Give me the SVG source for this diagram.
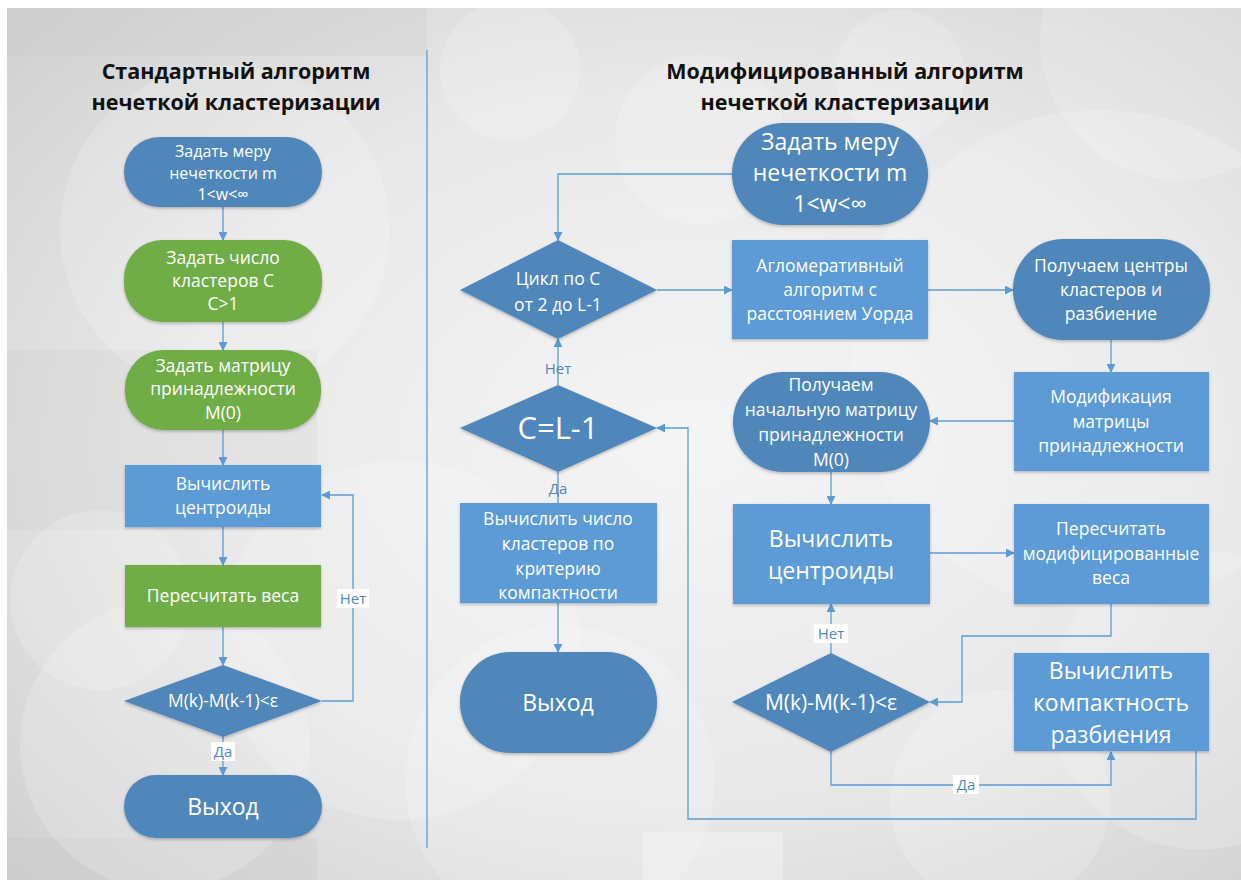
<svg xmlns="http://www.w3.org/2000/svg" width="1241" height="883" viewBox="0 0 1241 883">
<defs>
<radialGradient id="bg" cx="0.55" cy="0.5" r="0.75">
<stop offset="0" stop-color="#f5f5f6"/>
<stop offset="0.55" stop-color="#e8e8e9"/>
<stop offset="1" stop-color="#cfcfd0"/>
</radialGradient>
<marker id="ah" viewBox="0 0 10 10" refX="9" refY="5" markerWidth="9" markerHeight="9" markerUnits="userSpaceOnUse" orient="auto">
<path d="M0,0 L10,5 L0,10 z" fill="#5B9BD5"/>
</marker>
<filter id="sh" x="-10%" y="-10%" width="120%" height="130%">
<feDropShadow dx="0" dy="1.5" stdDeviation="1.5" flood-color="#000" flood-opacity="0.25"/>
</filter>
</defs>
<style>
.dk{fill:#4F87BB;filter:url(#sh)}
.lt{fill:#5B9BD5;filter:url(#sh)}
.gr{fill:#70AD47;filter:url(#sh)}
.t{font-family:"Open Sans","Liberation Sans",sans-serif;fill:#fff;text-anchor:middle}
.s{font-size:17.5px}
.m{font-size:17.5px}
.sm{font-size:16px}
.b{font-size:23px}
.h{font-family:"Open Sans","Liberation Sans",sans-serif;font-weight:bold;font-size:21.5px;fill:#111;text-anchor:middle}
.c{fill:none;stroke:#5B9BD5;stroke-width:1.3}
.ca{fill:none;stroke:#5B9BD5;stroke-width:1.3;marker-end:url(#ah)}
.lb{font-family:"Open Sans","Liberation Sans",sans-serif;font-size:15px;fill:#4F87BB;text-anchor:middle}
.circ{fill:#fff;opacity:0.18}
</style>
<rect x="0" y="0" width="1241" height="883" fill="#fff"/>
<g id="background">
<rect x="7" y="8" width="1234" height="872" fill="url(#bg)"/>
<rect x="7" y="8" width="420" height="48" fill="#c8c8c8" opacity="0.25"/>
<rect x="7" y="350" width="310" height="180" fill="#c8c8c8" opacity="0.2"/>
<rect x="7" y="838" width="310" height="42" fill="#c8c8c8" opacity="0.3"/>
<circle class="circ" cx="225" cy="230" r="165"/>
<circle class="circ" cx="100" cy="600" r="90"/>
<circle class="circ" cx="165" cy="745" r="145"/>
<circle class="circ" cx="400" cy="640" r="180"/>
<circle class="circ" cx="510" cy="70" r="70"/>
<circle class="circ" cx="700" cy="140" r="85"/>
<circle class="circ" cx="900" cy="75" r="65"/>
<circle class="circ" cx="1180" cy="40" r="140"/>
<circle class="circ" cx="1100" cy="360" r="250"/>
<circle class="circ" cx="560" cy="780" r="155"/>
<circle class="circ" cx="1000" cy="800" r="110"/>
<circle class="circ" cx="1200" cy="700" r="150"/>
<rect x="643" y="832" width="140" height="48" fill="#fff" opacity="0.3"/>
</g>
<line x1="427" y1="50" x2="427" y2="848" stroke="#5B9BD5" stroke-width="1.3"/>
<g id="titles">
<text class="h" x="236" y="79">Стандартный алгоритм</text>
<text class="h" x="236" y="110">нечеткой кластеризации</text>
<text class="h" x="845" y="79">Модифицированный алгоритм</text>
<text class="h" x="845" y="110">нечеткой кластеризации</text>
</g>
<g id="connectors">
<line class="ca" x1="223" y1="207" x2="223" y2="240"/>
<line class="ca" x1="223" y1="322" x2="223" y2="350"/>
<line class="ca" x1="223" y1="430" x2="223" y2="465"/>
<line class="ca" x1="223" y1="527" x2="223" y2="565"/>
<line class="ca" x1="223" y1="627" x2="223" y2="665"/>
<line class="ca" x1="223" y1="737" x2="223" y2="775"/>
<polyline class="ca" points="322,701 353,701 353,495 322,495"/>
<polyline class="ca" points="732,174 558,174 558,240"/>
<line class="ca" x1="657" y1="290" x2="732" y2="290"/>
<line class="ca" x1="928" y1="290" x2="1013" y2="290"/>
<line class="ca" x1="1111" y1="340" x2="1111" y2="372"/>
<line class="ca" x1="1014" y1="421" x2="930" y2="421"/>
<line class="ca" x1="831" y1="472" x2="831" y2="504"/>
<line class="ca" x1="930" y1="553" x2="1014" y2="553"/>
<line class="ca" x1="831" y1="653" x2="831" y2="604"/>
<polyline class="ca" points="1111,604 1111,636 962,636 962,702 930,702"/>
<polyline class="ca" points="831,752 831,785 1111,785 1111,752"/>
<polyline class="ca" points="1196,751 1196,819 688,819 688,428 657,428"/>
<line class="ca" x1="558" y1="385" x2="558" y2="339"/>
<line class="c" x1="558" y1="472" x2="558" y2="503"/>
<line class="ca" x1="558" y1="603" x2="558" y2="652"/>
<rect x="337" y="589" width="32" height="19" fill="#fff"/>
<text class="lb" x="353" y="604">Нет</text>
<rect x="211" y="742" width="24" height="19" fill="#fff"/>
<text class="lb" x="223" y="757">Да</text>
<text class="lb" x="558" y="374">Нет</text>
<text class="lb" x="558" y="494">Да</text>
<rect x="814" y="624" width="34" height="19" fill="#fff"/>
<text class="lb" x="831" y="639">Нет</text>
<rect x="953" y="775" width="26" height="19" fill="#fff"/>
<text class="lb" x="966" y="790">Да</text>
</g>
<g id="l-start">
<rect class="dk" x="124" y="137" width="198" height="70" rx="35"/>
<text class="t sm" x="223" y="157">Задать меру</text>
<text class="t sm" x="223" y="179">нечеткости m</text>
<text class="t sm" x="223" y="200">1&lt;w&lt;∞</text>
</g>
<g id="l-clusters">
<rect class="gr" x="124" y="240" width="198" height="82" rx="38"/>
<text class="t m" x="223" y="264">Задать число</text>
<text class="t m" x="223" y="287">кластеров С</text>
<text class="t m" x="223" y="310">С&gt;1</text>
</g>
<g id="l-matrix">
<rect class="gr" x="125" y="350" width="196" height="80" rx="38"/>
<text class="t m" x="223" y="372">Задать матрицу</text>
<text class="t m" x="223" y="395">принадлежности</text>
<text class="t m" x="223" y="419">М(0)</text>
</g>
<g id="l-centroids">
<rect class="lt" x="125" y="465" width="196" height="62"/>
<text class="t m" x="223" y="490">Вычислить</text>
<text class="t m" x="223" y="514">центроиды</text>
</g>
<g id="l-weights">
<rect class="gr" x="125" y="565" width="196" height="62"/>
<text class="t m" x="223" y="602">Пересчитать веса</text>
</g>
<g id="l-check">
<polygon class="dk" points="124,701 223,665 322,701 223,737"/>
<text class="t m" x="223" y="707">M(k)-M(k-1)&lt;ε</text>
</g>
<g id="l-exit">
<rect class="dk" x="124" y="775" width="198" height="63" rx="31.5"/>
<text class="t b" x="223" y="815">Выход</text>
</g>
<g id="r-start">
<rect class="dk" x="732" y="123" width="196" height="102" rx="51"/>
<text class="t b" x="830" y="150">Задать меру</text>
<text class="t b" x="830" y="181">нечеткости m</text>
<text class="t b" x="830" y="212">1&lt;w&lt;∞</text>
</g>
<g id="r-loop">
<polygon class="dk" points="460,290 558,240 657,290 558,339"/>
<text class="t m" x="558" y="285">Цикл по С</text>
<text class="t m" x="558" y="311">от 2 до L-1</text>
</g>
<g id="r-aggl">
<rect class="lt" x="732" y="240" width="196" height="99"/>
<text class="t s" x="830" y="272">Агломеративный</text>
<text class="t s" x="830" y="296">алгоритм с</text>
<text class="t s" x="830" y="320">расстоянием Уорда</text>
</g>
<g id="r-centers">
<rect class="dk" x="1013" y="239" width="197" height="101" rx="50"/>
<text class="t s" x="1111" y="272">Получаем центры</text>
<text class="t s" x="1111" y="296">кластеров и</text>
<text class="t s" x="1111" y="320">разбиение</text>
</g>
<g id="r-modify">
<rect class="lt" x="1014" y="372" width="195" height="99"/>
<text class="t s" x="1111" y="403">Модификация</text>
<text class="t s" x="1111" y="428">матрицы</text>
<text class="t s" x="1111" y="452">принадлежности</text>
</g>
<g id="r-initmatrix">
<rect class="dk" x="733" y="372" width="197" height="100" rx="50"/>
<text class="t s" x="831" y="391">Получаем</text>
<text class="t s" x="831" y="416">начальную матрицу</text>
<text class="t s" x="831" y="441">принадлежности</text>
<text class="t s" x="831" y="466">М(0)</text>
</g>
<g id="r-centroids">
<rect class="lt" x="733" y="504" width="197" height="100"/>
<text class="t b" x="831" y="547">Вычислить</text>
<text class="t b" x="831" y="579">центроиды</text>
</g>
<g id="r-weights">
<rect class="lt" x="1014" y="504" width="195" height="100"/>
<text class="t s" x="1111" y="535">Пересчитать</text>
<text class="t s" x="1111" y="560">модифицированные</text>
<text class="t s" x="1111" y="584">веса</text>
</g>
<g id="r-check">
<polygon class="dk" points="732,702 831,653 930,702 831,752"/>
<text class="t" style="font-size:21px" x="831" y="710">M(k)-M(k-1)&lt;ε</text>
</g>
<g id="r-compact">
<rect class="lt" x="1014" y="653" width="195" height="98"/>
<text class="t b" x="1111" y="679">Вычислить</text>
<text class="t b" x="1111" y="711">компактность</text>
<text class="t b" x="1111" y="743">разбиения</text>
</g>
<g id="r-cl1">
<polygon class="dk" points="460,428 558,385 657,428 558,472"/>
<text class="t" style="font-size:31px" x="558" y="439">C=L-1</text>
</g>
<g id="r-count">
<rect class="lt" x="460" y="503" width="197" height="100"/>
<text class="t s" x="558" y="525">Вычислить число</text>
<text class="t s" x="558" y="550">кластеров по</text>
<text class="t s" x="558" y="575">критерию</text>
<text class="t s" x="558" y="599">компактности</text>
</g>
<g id="r-exit">
<rect class="dk" x="460" y="652" width="197" height="101" rx="50"/>
<text class="t b" x="558" y="711">Выход</text>
</g>
</svg>
